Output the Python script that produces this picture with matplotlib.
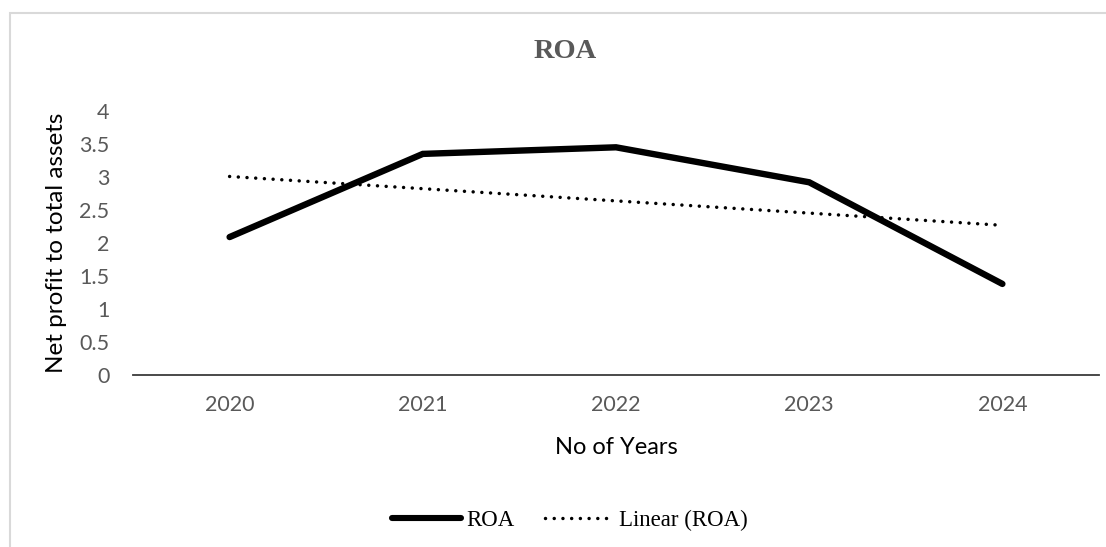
#!/usr/bin/env python3
"""
ROA per year with a linear trendline.
"""

import numpy as np
import matplotlib
matplotlib.use("Agg")
import matplotlib.pyplot as plt
from matplotlib.patches import Rectangle
from matplotlib.lines import Line2D

years = ["2020", "2021", "2022", "2023", "2024"]
roa = [2.09, 3.35, 3.45, 2.92, 1.38]
y_ticks = [0, 0.5, 1, 1.5, 2, 2.5, 3, 3.5, 4]


def main():
    W, H = 1106, 547
    fig = plt.figure(figsize=(W / 100, H / 100), dpi=100)

    # light chart-area border (runs off the right and bottom edges)
    fig.patches.append(Rectangle((10 / W, -0.1), 1.2, 1 - 13 / H + 0.1,
                                 transform=fig.transFigure, fill=False,
                                 edgecolor="#d9d9d9", linewidth=1.5))

    ax = fig.add_axes([133 / W, 1 - 375 / H, 966 / W, 264 / H])

    x_vals = np.arange(len(years))
    y_vals = np.array(roa)

    # linear fit over the year index
    coeffs = np.polyfit(x_vals, y_vals, 1)
    trend = np.poly1d(coeffs)(x_vals)

    dotted = (0, (0.01, 2.5))

    ax.plot(x_vals, y_vals, color="black", linewidth=4.6,
            solid_capstyle="round", solid_joinstyle="miter", label="ROA")
    ax.plot(x_vals, trend, color="black", linewidth=2.5,
            linestyle=dotted, dash_capstyle="round", label="Linear (ROA)")

    ax.set_xlim(-0.5, len(years) - 0.5)
    ax.set_ylim(0, 4)
    ax.set_xticks(x_vals)
    ax.set_xticklabels(years)
    ax.set_yticks(y_ticks)
    ax.set_yticklabels([f"{v:g}" for v in y_ticks])

    for side in ("left", "right", "top"):
        ax.spines[side].set_visible(False)
    ax.spines["bottom"].set_color("#3a3a3a")
    ax.spines["bottom"].set_linewidth(1.3)

    ax.tick_params(axis="both", length=0, labelsize=15.5, labelcolor="#595959")
    ax.tick_params(axis="x", pad=14.5)
    ax.tick_params(axis="y", pad=17)
    for lbl in ax.get_xticklabels() + ax.get_yticklabels():
        lbl.set_family("Lato")

    ax.set_xlabel("No of Years", fontsize=17, family="Lato", labelpad=16)
    ax.set_ylabel("Net profit to total assets", fontsize=17.5, family="Lato",
                  labelpad=9)

    fig.text(565 / W, 1 - 52 / H, "ROA", ha="center", va="center",
             fontsize=20.5, fontweight="bold", color="#595959",
             family="Liberation Serif")

    handles = [
        Line2D([], [], color="black", linewidth=4.4, solid_capstyle="round"),
        Line2D([], [], color="black", linewidth=2.5,
               linestyle=dotted, dash_capstyle="round"),
    ]
    fig.legend(handles, ["ROA", "Linear (ROA)"], loc="center",
               bbox_to_anchor=(570 / W, 1 - 520 / H), ncol=2, frameon=False,
               prop={"family": "Liberation Serif", "size": 16.5},
               handlelength=3.0, handletextpad=0.25, columnspacing=1.3)

    fig.savefig("out.png", dpi=100, facecolor="white")


if __name__ == "__main__":
    main()
